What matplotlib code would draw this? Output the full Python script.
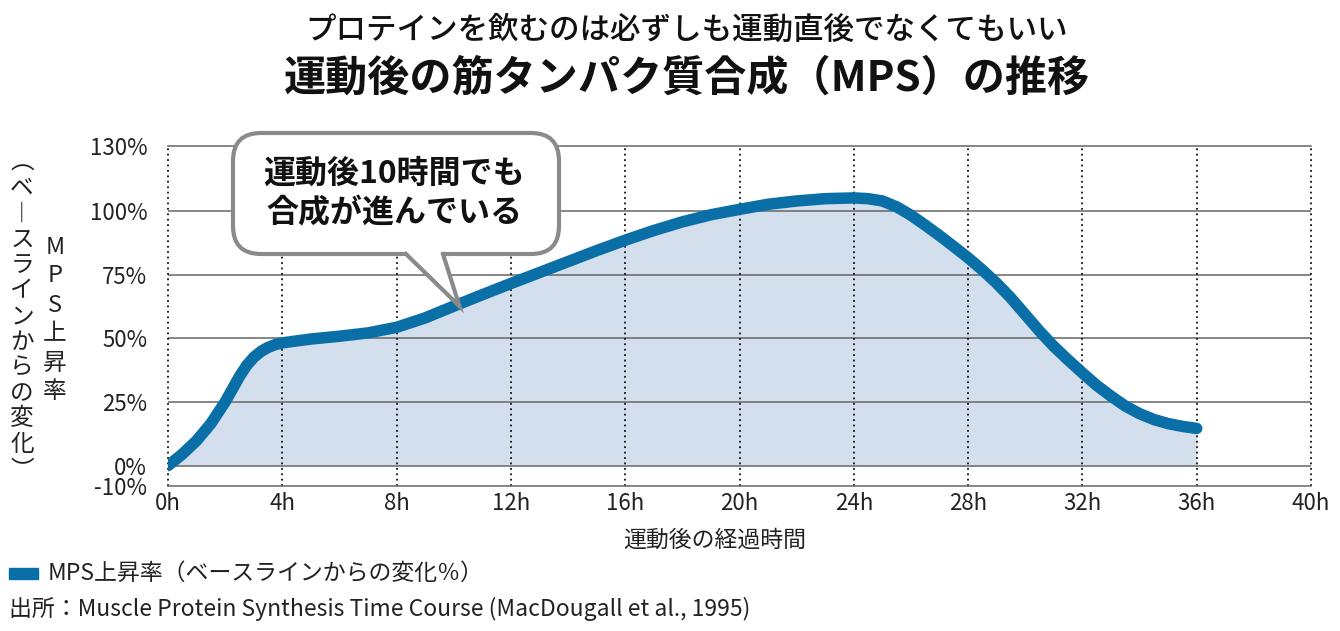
import matplotlib
matplotlib.use("Agg")
import matplotlib.pyplot as plt
from matplotlib.patches import FancyBboxPatch, Polygon
from matplotlib.lines import Line2D

plt.rcParams['font.family'] = ['Noto Sans CJK JP', 'DejaVu Sans']

# ---- data ----
hours = [0, 0.5, 1, 1.5, 2, 2.25, 2.5, 2.75, 3, 3.25, 3.5, 3.75, 4, 5, 6, 7, 8, 9, 10,
         11, 12, 13, 14, 15, 16, 17, 18, 19, 20, 21, 22, 23, 24, 24.5, 25, 25.5, 26,
         26.5, 27, 27.5, 28, 28.5, 29, 29.5, 30, 30.5, 31, 31.5, 32, 32.5, 33, 33.5,
         34, 34.5, 35, 35.5, 36]
mps = [0, 4.5, 9.8, 16.5, 25, 30, 35, 39.3, 42.5, 44.8, 46.4, 47.5, 48.2, 49.7, 50.8,
       52.1, 54.3, 58, 62.6, 67.1, 71.5, 75.8, 80.1, 84.4, 88.5, 92.3, 95.7, 98.5,
       100.6, 102.6, 103.9, 104.8, 105.1, 104.8, 103.9, 101.6, 98.3, 94.4, 90.3, 86.0,
       81.6, 76.8, 71.6, 65.8, 59.3, 52.8, 46.8, 41.5, 36.4, 31.5, 27.3, 23.4, 20.4,
       18.1, 16.5, 15.4, 14.6]
x_ticks = [0, 4, 8, 12, 16, 20, 24, 28, 32, 36, 40]
x_labels = [f"{h}h" for h in x_ticks]
y_lo, y_hi = -8.0, 125.6
y_ticks = [y_lo, 0, 25, 50, 75, 100, y_hi]
y_labels = ["-10%", "0%", "25%", "50%", "75%", "100%", "130%"]
grid_y = [0, 25, 50, 75, 100]

title1 = "プロテインを飲むのは必ずしも運動直後でなくてもいい"
title2 = "運動後の筋タンパク質合成（MPS）の推移"
xlabel = "運動後の経過時間"
ylabel_right = ["M", "P", "S", "上", "昇", "率"]
ylabel_left = ["︵", "ベ", "︱", "ス", "ラ", "イ", "ン", "か", "ら", "の", "変", "化", "︶"]
callout_lines = ["運動後10時間でも", "合成が進んでいる"]
callout_tip = (10.2, 62.6)
legend_text = "MPS上昇率（ベースラインからの変化％）"
source_text = "出所：Muscle Protein Synthesis Time Course (MacDougall et al., 1995)"

W, H = 1340, 631
LINE_C = "#0a6fa6"
FILL_C = "#d3dfec"
TEXT_C = "#222222"
GRID_C = "#666666"

fig = plt.figure(figsize=(W / 100, H / 100), dpi=100)
fig.patch.set_facecolor("white")

def fx(x):
    return x / W

def fy(y):
    return 1 - y / H

ax_l, ax_r, ax_t, ax_b = 168, 1311, 145.7, 486
ax = fig.add_axes([fx(ax_l), fy(ax_b), (ax_r - ax_l) / W, (ax_b - ax_t) / H])
ax.set_xlim(0, 40)
ax.set_ylim(y_lo, y_hi)

ax.fill_between(hours, 0, mps, color=FILL_C, lw=0, zorder=1)
ax.plot(hours, mps, color=LINE_C, lw=8.3, solid_capstyle="round",
        solid_joinstyle="round", zorder=3)

for g in grid_y:
    ax.axhline(g, color=GRID_C, lw=1.1, zorder=2)
for xt in x_ticks:
    ax.axvline(xt, color="#111111", lw=1.3, ls=(0, (1, 2)), zorder=2, clip_on=False)

for s in ["left", "right"]:
    ax.spines[s].set_visible(False)
for s in ["top", "bottom"]:
    ax.spines[s].set_color(GRID_C)
    ax.spines[s].set_linewidth(1.1)

ax.set_xticks(x_ticks)
ax.set_xticklabels(x_labels)
ax.set_yticks(y_ticks)
ax.set_yticklabels(y_labels)
ax.tick_params(axis="both", length=0, labelsize=16, colors=TEXT_C)
ax.tick_params(axis="y", pad=15)
ax.tick_params(axis="x", pad=4)
ax.set_xlabel(xlabel, fontsize=16.5, color=TEXT_C)
ax.xaxis.label.set_va("center")
ax.xaxis.set_label_coords((715 - ax_l) / (ax_r - ax_l), (ax_b - 540) / (ax_b - ax_t))

# vertical y label
for i, ch in enumerate(ylabel_right):
    fig.text(fx(55), fy(247 + 29 * i), ch, fontsize=17, color=TEXT_C,
             ha="center", va="center")
for i, ch in enumerate(ylabel_left):
    fig.text(fx(22), fy(163 + 25.6 * i), ch, fontsize=17, color=TEXT_C,
             ha="center", va="center")

# titles
fig.text(fx(687), fy(30), title1, fontsize=22, color="#111111", ha="center",
         va="center", fontweight="medium")
fig.text(fx(687), fy(79), title2, fontsize=30.3, color="#111111", ha="center",
         va="center", fontweight="bold")

# callout
tr = fig.dpi_scale_trans

def inch(x, y):
    return (x / 100, (H - y) / 100)

bx0, bx1, by0, by1 = 233, 559, 133, 254
box = FancyBboxPatch(inch(bx0, by1), (bx1 - bx0) / 100, (by1 - by0) / 100,
                     boxstyle="round,pad=0,rounding_size=0.28",
                     transform=tr, facecolor="white", edgecolor="#8a8a8a",
                     lw=3.0, zorder=10)
fig.add_artist(box)
tip_disp = ax.transData.transform(callout_tip)
tip_in = tr.inverted().transform(tip_disp)
bl, br = inch(406, by1), inch(443, by1)
cover = Polygon([inch(406, by1 - 4), bl, tuple(tip_in), br, inch(443, by1 - 4)],
                closed=True, transform=tr, facecolor="white", edgecolor="none",
                zorder=11)
fig.add_artist(cover)
tail = Line2D([bl[0], tip_in[0], br[0]], [bl[1], tip_in[1], br[1]],
              transform=tr, color="#8a8a8a", lw=3.0, solid_joinstyle="miter",
              zorder=12)
fig.add_artist(tail)
for i, line in enumerate(callout_lines):
    fig.text(fx(394), fy(174 + 39 * i), line, fontsize=23, fontweight="bold",
             color="#111111", ha="center", va="center", zorder=13)

# legend
fig.add_artist(plt.Rectangle((fx(9), fy(579)), 29 / W, 11 / H,
                             transform=fig.transFigure, color=LINE_C))
fig.text(fx(48), fy(573), legend_text, fontsize=16.5, color=TEXT_C,
         ha="left", va="center")
fig.text(fx(9), fy(609), source_text, fontsize=16.5, color=TEXT_C,
         ha="left", va="center")

fig.savefig("out.png", dpi=100)
